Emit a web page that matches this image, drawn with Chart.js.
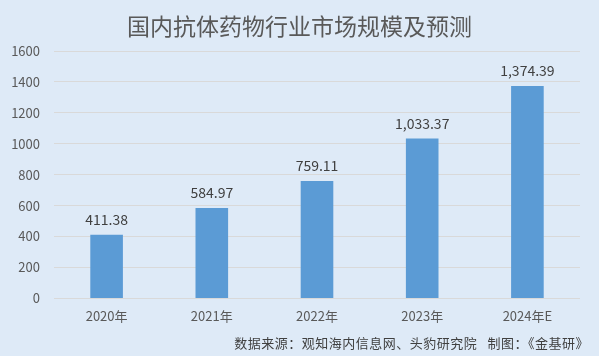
<!DOCTYPE html>
<html>
<head>
<meta charset="utf-8">
<script src="https://cdn.jsdelivr.net/npm/chart.js@4/dist/chart.umd.min.js"></script>
<style>
html,body{margin:0;padding:0;background:#DEEAF7;}
#wrap{width:599px;height:356px;position:relative;}
</style>
</head>
<body>
<div id="wrap"><canvas id="c" width="599" height="356"></canvas></div>
<script>
const categories = ["2020年", "2021年", "2022年", "2023年", "2024年E"];
const values = [411.38, 584.97, 759.11, 1033.37, 1374.39];
const valueLabels = ["411.38", "584.97", "759.11", "1,033.37", "1,374.39"];
const yTicks = [0, 200, 400, 600, 800, 1000, 1200, 1400, 1600];
const titleText = "国内抗体药物行业市场规模及预测";
const sourceText = "数据来源：观知海内信息网、头豹研究院   制图：《金基研》";

const FONT = "'Noto Sans CJK SC', 'Noto Sans', sans-serif";

const bgPlugin = {
  id: 'bg',
  beforeDraw(chart) {
    const ctx = chart.ctx;
    ctx.save();
    ctx.fillStyle = '#DEEAF7';
    ctx.fillRect(0, 0, chart.width, chart.height);
    ctx.restore();
  },
  afterDraw(chart) {
    const ctx = chart.ctx;
    ctx.save();
    ctx.fillStyle = '#595959';
    ctx.font = "23px " + FONT;
    ctx.textAlign = 'center';
    ctx.textBaseline = 'middle';
    ctx.fillText(titleText, chart.width / 2, 26);
    ctx.fillStyle = '#404040';
    ctx.font = "13px " + FONT;
    ctx.textAlign = 'right';
    try { ctx.letterSpacing = '0.5px'; } catch (e) {}
    ctx.fillText(sourceText, chart.width - 10, 343);
    ctx.restore();
  }
};

const labelPlugin = {
  id: 'vlabels',
  afterDatasetsDraw(chart) {
    const ctx = chart.ctx;
    const meta = chart.getDatasetMeta(0);
    ctx.save();
    ctx.font = "14px " + FONT;
    ctx.fillStyle = '#404040';
    ctx.textAlign = 'center';
    ctx.textBaseline = 'bottom';
    meta.data.forEach((bar, i) => {
      ctx.fillText(valueLabels[i], bar.x, bar.y - 8);
    });
    ctx.restore();
  }
};

new Chart(document.getElementById('c'), {
  type: 'bar',
  data: {
    labels: categories,
    datasets: [{
      data: values,
      backgroundColor: '#5B9BD5',
      barPercentage: 0.62,
      categoryPercentage: 0.5
    }]
  },
  options: {
    responsive: false,
    animation: false,
    devicePixelRatio: 1,
    layout: { padding: { left: 0, right: 19, top: 51, bottom: 22 } },
    plugins: {
      legend: { display: false },
      tooltip: { enabled: false },
      title: { display: false }
    },
    scales: {
      x: {
        grid: { display: false, drawTicks: false },
        border: { display: false },
        ticks: { color: '#595959', font: { family: FONT, size: 13 }, padding: 10 }
      },
      y: {
        min: 0, max: 1600,
        afterBuildTicks(scale) { scale.ticks = yTicks.map(v => ({ value: v })); },
        afterFit(scale) { scale.width = 54; },
        grid: { color: '#D9D9D9', drawTicks: false, lineWidth: 1 },
        border: { display: false },
        ticks: { color: '#595959', font: { family: FONT, size: 13 }, padding: 14,
                 callback: (v) => String(v) }
      }
    }
  },
  plugins: [bgPlugin, labelPlugin]
});
</script>
</body>
</html>
